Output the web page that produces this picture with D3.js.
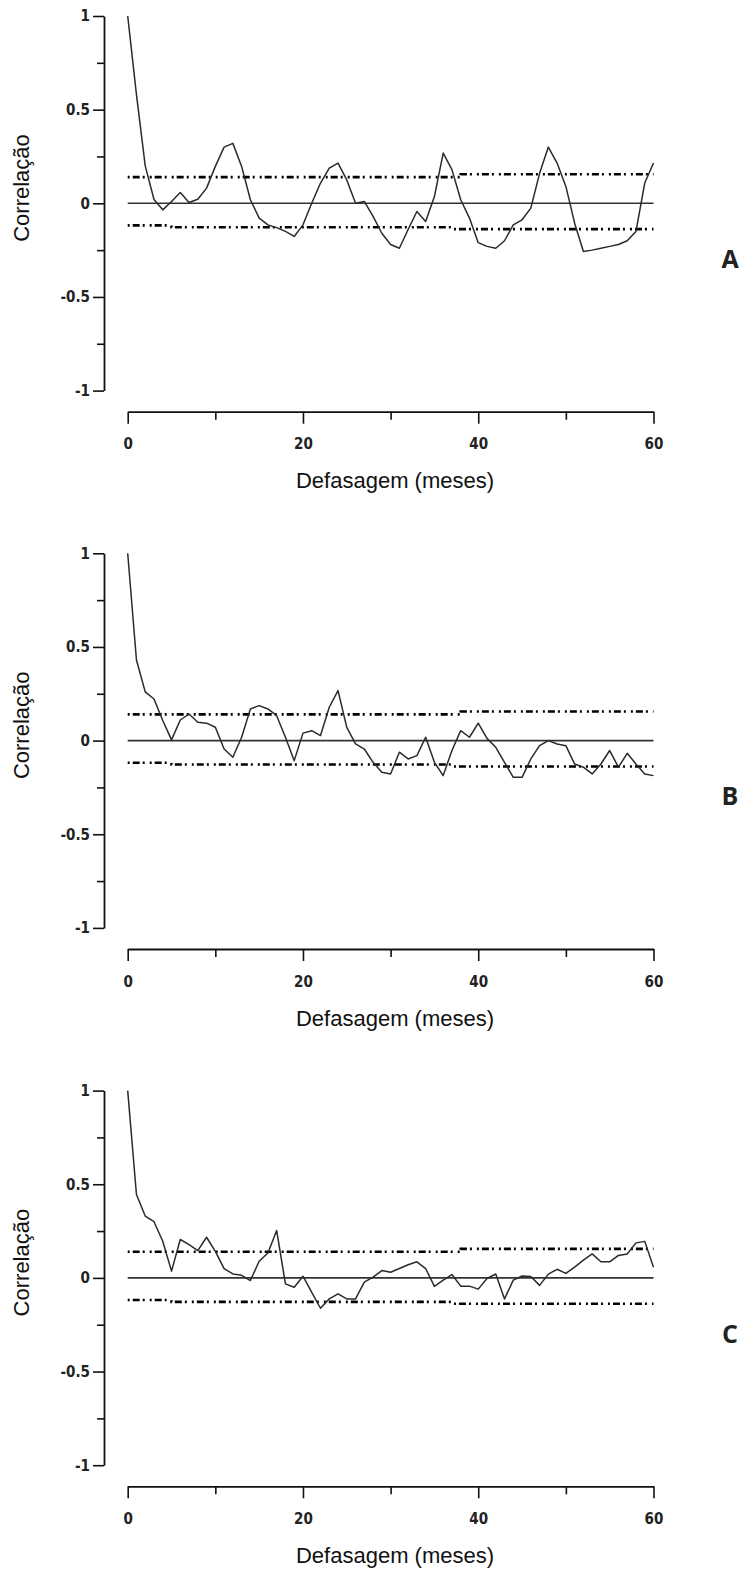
<!DOCTYPE html>
<html>
<head>
<meta charset="utf-8">
<script src="https://cdn.jsdelivr.net/npm/d3@7"></script>
<style>
  html, body { margin: 0; padding: 0; background: #fff; }
  svg { display: block; }
</style>
</head>
<body>
<script>
// ---------------- data ----------------
const panelLabels = ["A", "B", "C"];
const xTickMajor = [0, 20, 40, 60];
const xTickMinor = [10, 30, 50];
const yTickMajor = [1, 0.5, 0, -0.5, -1];
const yTickMinor = [0.75, 0.25, -0.25, -0.75];
const xAxisTitle = "Defasagem (meses)";
const yAxisTitle = "Correlação";

// autocorrelation at lags 0..60
const acfA = [1, 0.58, 0.2, 0.02, -0.035, 0.01, 0.058, 0.004, 0.022, 0.081,
  0.197, 0.30, 0.32, 0.197, 0.019, -0.079, -0.115, -0.13, -0.15, -0.177,
  -0.115, 0.0, 0.108, 0.188, 0.215, 0.125, 0.0, 0.01, -0.07, -0.16,
  -0.22, -0.24, -0.14, -0.044, -0.097, 0.036, 0.268, 0.18, 0.019, -0.079,
  -0.21, -0.23, -0.24, -0.2, -0.115, -0.088, -0.026, 0.16, 0.30, 0.215,
  0.09, -0.106, -0.257, -0.25, -0.24, -0.23, -0.22, -0.2, -0.15, 0.108, 0.215];

const acfB = [1, 0.43, 0.26, 0.222, 0.107, 0.004, 0.11, 0.142, 0.098, 0.093,
  0.071, -0.045, -0.089, 0.018, 0.169, 0.187, 0.169, 0.133, 0.018, -0.107,
  0.04, 0.053, 0.027, 0.178, 0.267, 0.071, -0.018, -0.045, -0.116, -0.169,
  -0.178, -0.062, -0.098, -0.08, 0.018, -0.116, -0.187, -0.053, 0.053, 0.018,
  0.093, 0.012, -0.036, -0.116, -0.196, -0.196, -0.098, -0.027, 0.0, -0.018,
  -0.027, -0.125, -0.142, -0.178, -0.125, -0.053, -0.142, -0.068, -0.125, -0.178, -0.187];

const acfC = [1, 0.445, 0.33, 0.30, 0.196, 0.036, 0.205, 0.178, 0.146, 0.217,
  0.142, 0.05, 0.021, 0.014, -0.014, 0.089, 0.133, 0.253, -0.032, -0.05,
  0.009, -0.077, -0.162, -0.112, -0.085, -0.112, -0.112, -0.023, 0.004, 0.039,
  0.03, 0.05, 0.07, 0.086, 0.05, -0.045, -0.012, 0.018, -0.044, -0.044,
  -0.06, -0.003, 0.021, -0.112, -0.012, 0.01, 0.008, -0.04, 0.02, 0.046,
  0.024, 0.058, 0.095, 0.128, 0.086, 0.086, 0.12, 0.128, 0.187, 0.195, 0.057];

// confidence bands (step functions in lag)
const upperBandLags = [0, 38, 60];
const upperBandVals = [0.14, 0.155, 0.155];
const lowerBandLags = [0, 5, 37, 60];
const lowerBandVals = [-0.118, -0.128, -0.138, -0.138];

const series = [acfA, acfB, acfC];

// ---------------- layout ----------------
const W = 746, H = 1571;
const panelTops = [16, 553.3, 1090.6];   // pixel y of r = 1 in each panel
const plotH = 374.6;                      // r=1 to r=-1
const xAxisOffset = 395.7;                // from r=1 to x axis line

const svg = d3.select("body").append("svg")
  .attr("width", W).attr("height", H)
  .attr("viewBox", `0 0 ${W} ${H}`);

const x = d3.scaleLinear().domain([0, 60]).range([127.7, 653.5]);
const tickFont = "'Liberation Sans Narrow', 'DejaVu Sans', Arial, sans-serif";
const titleFont = "'Liberation Sans', Arial, Helvetica, sans-serif";

series.forEach((vals, p) => {
  const top = panelTops[p];
  const y = d3.scaleLinear().domain([-1, 1]).range([top + plotH, top]);
  const g = svg.append("g");

  // y axis: minor ticks
  const yMinor = g.append("g").attr("transform", `translate(104,0)`)
    .call(d3.axisLeft(y).tickValues(yTickMinor).tickSize(7).tickSizeOuter(0).tickFormat(""));
  yMinor.select(".domain").remove();
  // y axis: major ticks + labels
  const yMajor = g.append("g").attr("transform", `translate(104,0)`)
    .call(d3.axisLeft(y).tickValues(yTickMajor).tickSize(11).tickSizeOuter(0)
      .tickPadding(3).tickFormat(d => String(d)));
  [yMinor, yMajor].forEach(a => {
    a.selectAll("line").attr("stroke", "#111").attr("stroke-width", 1.6);
    a.selectAll(".domain").attr("stroke", "#111").attr("stroke-width", 1.8);
  });
  yMajor.selectAll("text")
    .attr("font-family", tickFont).attr("font-stretch", "condensed")
    .attr("font-size", 15).attr("font-weight", "bold").attr("fill", "#222");

  // x axis
  const xa = top + xAxisOffset;
  const xMinor = g.append("g").attr("transform", `translate(0,${xa})`)
    .call(d3.axisBottom(x).tickValues(xTickMinor).tickSize(8).tickSizeOuter(0).tickFormat(""));
  xMinor.select(".domain").remove();
  const xMajor = g.append("g").attr("transform", `translate(0,${xa})`)
    .call(d3.axisBottom(x).tickValues(xTickMajor).tickSize(12).tickSizeOuter(0)
      .tickPadding(15).tickFormat(d => String(d)));
  [xMinor, xMajor].forEach(a => {
    a.selectAll("line").attr("stroke", "#111").attr("stroke-width", 1.6);
    a.selectAll(".domain").attr("stroke", "#111").attr("stroke-width", 1.8);
  });
  xMajor.selectAll("text")
    .attr("font-family", tickFont).attr("font-stretch", "condensed")
    .attr("font-size", 15).attr("font-weight", "bold").attr("fill", "#222");

  // zero line
  g.append("line")
    .attr("x1", x(0)).attr("x2", x(60))
    .attr("y1", y(0)).attr("y2", y(0))
    .attr("stroke", "#333").attr("stroke-width", 1.6);

  // confidence bands
  const bandLine = d3.line().x(d => x(d[0])).y(d => y(d[1])).curve(d3.curveStepAfter);
  [[upperBandLags, upperBandVals], [lowerBandLags, lowerBandVals]].forEach(([ls, vs]) => {
    g.append("path")
      .attr("d", bandLine(ls.map((l, i) => [l, vs[i]])))
      .attr("fill", "none").attr("stroke", "#000").attr("stroke-width", 2.6)
      .attr("stroke-dasharray", "2,3,7,3,2,5");
  });

  // ACF line
  const acfLine = d3.line().x((d, i) => x(i)).y(d => y(d));
  g.append("path")
    .attr("d", acfLine(vals))
    .attr("fill", "none").attr("stroke", "#2a2a2a").attr("stroke-width", 1.5)
    .attr("stroke-linejoin", "round");

  // axis titles
  g.append("text")
    .attr("x", 395).attr("y", top + 472.3)
    .attr("text-anchor", "middle")
    .attr("font-family", titleFont).attr("font-size", 22).attr("fill", "#111")
    .text(xAxisTitle);
  g.append("text")
    .attr("transform", `translate(29,${top + 172}) rotate(-90)`)
    .attr("text-anchor", "middle")
    .attr("font-family", titleFont).attr("font-size", 22).attr("fill", "#111")
    .text(yAxisTitle);

  // panel letter
  g.append("text")
    .attr("x", 730).attr("y", top + 252)
    .attr("text-anchor", "middle")
    .attr("font-family", "'Open Sans', 'Noto Sans', sans-serif")
    .attr("font-weight", "bold").attr("font-size", 25).attr("fill", "#222")
    .text(panelLabels[p]);
});
</script>
</body>
</html>
